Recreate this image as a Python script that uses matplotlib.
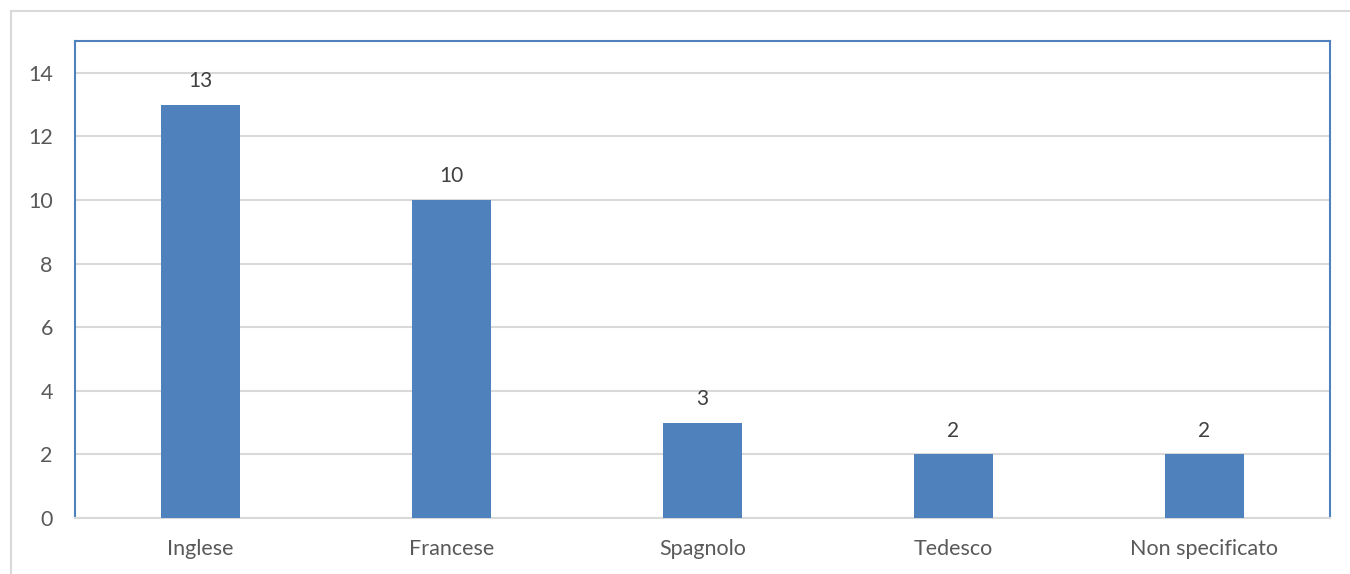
import matplotlib.pyplot as plt
from matplotlib.lines import Line2D

# data
lingue = ['Inglese', 'Francese', 'Spagnolo', 'Tedesco', 'Non specificato']
valori = [13, 10, 3, 2, 2]
yticks = [0, 2, 4, 6, 8, 10, 12, 14]

blu = '#4f81bd'
grigio_testo = '#595959'
grigio_linee = '#d9d9d9'

plt.rcParams['font.family'] = ['Lato', 'DejaVu Sans']

fig = plt.figure(figsize=(13.5, 5.74), dpi=100)
ax = fig.add_axes([75/1350, 56/574, 1255/1350, 477/574])

x = list(range(len(lingue)))
ax.bar(x, valori, width=0.315, color=blu, zorder=3)

for xi, v in zip(x, valori):
    ax.annotate(str(v), (xi, v), xytext=(0, 10), textcoords='offset points',
                ha='center', va='bottom', fontsize=15, color='#404040')

ax.set_xlim(-0.5, len(lingue) - 0.5)
ax.set_ylim(0, 15)
ax.set_yticks(yticks)
ax.set_xticks(x)
ax.set_xticklabels(lingue)
ax.tick_params(axis='both', length=0, labelsize=15.5, colors=grigio_testo)
ax.tick_params(axis='y', pad=16)
ax.tick_params(axis='x', pad=15)

ax.yaxis.grid(True, color=grigio_linee, linewidth=1.5, zorder=0)
ax.set_axisbelow(True)

for lato in ['left', 'top', 'right']:
    ax.spines[lato].set_color(blu)
    ax.spines[lato].set_linewidth(1.5)
ax.spines['bottom'].set_color(grigio_linee)
ax.spines['bottom'].set_linewidth(1.5)

# bordo esterno del grafico
fig.add_artist(Line2D([11/1350, 11/1350], [0, 1 - 11/574], color=grigio_linee, linewidth=1.5))
fig.add_artist(Line2D([11/1350, 1], [1 - 11/574, 1 - 11/574], color=grigio_linee, linewidth=1.5))

fig.savefig('out.png', dpi=100, facecolor='white')
